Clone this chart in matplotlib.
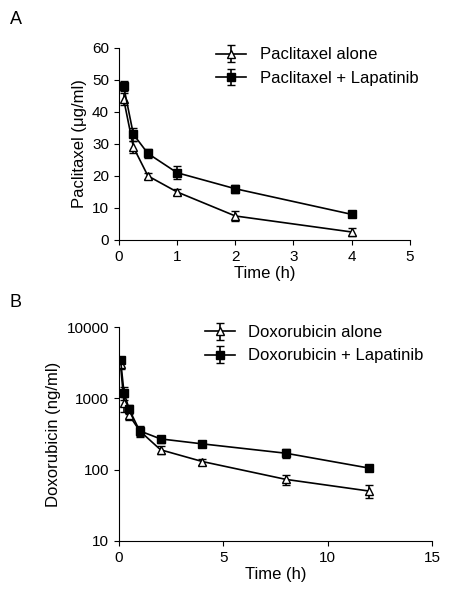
import matplotlib
matplotlib.use("Agg")
import matplotlib.pyplot as plt

plt.rcParams['font.family'] = ['Liberation Sans', 'DejaVu Sans']

tA = [0.083, 0.25, 0.5, 1, 2, 4]
pac_alone = [44, 29, 20, 15, 7.5, 2.5]
pac_alone_err = [2, 2, 1, 1, 1.5, 1.2]
pac_lap = [48, 33, 27, 21, 16, 8]
pac_lap_err = [1.5, 2, 1.5, 2, 1.2, 0.6]

tB = [0.083, 0.25, 0.5, 1, 2, 4, 8, 12]
dox_alone = [3000, 850, 580, 350, 190, 130, 73, 50]
dox_alone_err = [400, 200, 80, 50, 25, 12, 12, 10]
dox_lap = [3500, 1200, 700, 350, 270, 230, 170, 105]
dox_lap_err = [300, 250, 100, 60, 30, 20, 25, 8]

fig = plt.figure(figsize=(4.5, 5.97), dpi=100)

def style(ax):
    for s in ['top', 'right']:
        ax.spines[s].set_visible(False)
    ax.tick_params(labelsize=11)

axA = fig.add_axes([0.264, 0.598, 0.647, 0.322])
axA.errorbar(tA, pac_alone, yerr=pac_alone_err, color='black', marker='^', mfc='white',
             ms=6, lw=1.2, capsize=3, label='Paclitaxel alone')
axA.errorbar(tA, pac_lap, yerr=pac_lap_err, color='black', marker='s', mfc='black',
             ms=5.5, lw=1.2, capsize=3, label='Paclitaxel + Lapatinib')
axA.set_xlim(0, 5); axA.set_ylim(0, 60)
axA.set_yticks(range(0, 61, 10))
axA.set_xlabel('Time (h)', fontsize=12, labelpad=2)
axA.set_ylabel('Paclitaxel (μg/ml)', fontsize=12)
axA.legend(loc='upper right', frameon=False, fontsize=12, bbox_to_anchor=(1.08, 1.08), handlelength=1.8)
style(axA)

axB = fig.add_axes([0.264, 0.094, 0.696, 0.358])
axB.errorbar(tB, dox_alone, yerr=dox_alone_err, color='black', marker='^', mfc='white',
             ms=6, lw=1.2, capsize=3, label='Doxorubicin alone')
axB.errorbar(tB, dox_lap, yerr=dox_lap_err, color='black', marker='s', mfc='black',
             ms=5.5, lw=1.2, capsize=3, label='Doxorubicin + Lapatinib')
axB.set_yscale('log')
axB.set_xlim(0, 15); axB.set_ylim(10, 10000)
axB.set_xticks([0, 5, 10, 15])
axB.set_yticks([10, 100, 1000, 10000])
axB.set_yticklabels(['10', '100', '1000', '10000'])
axB.minorticks_off()
axB.set_xlabel('Time (h)', fontsize=12, labelpad=2)
axB.set_ylabel('Doxorubicin (ng/ml)', fontsize=12)
axB.legend(loc='upper right', frameon=False, fontsize=12, bbox_to_anchor=(1.02, 1.08), handlelength=1.8)
style(axB)

fig.text(0.022, 0.96, 'A', fontsize=13)
fig.text(0.022, 0.485, 'B', fontsize=13)

fig.savefig('out.png', dpi=100)
